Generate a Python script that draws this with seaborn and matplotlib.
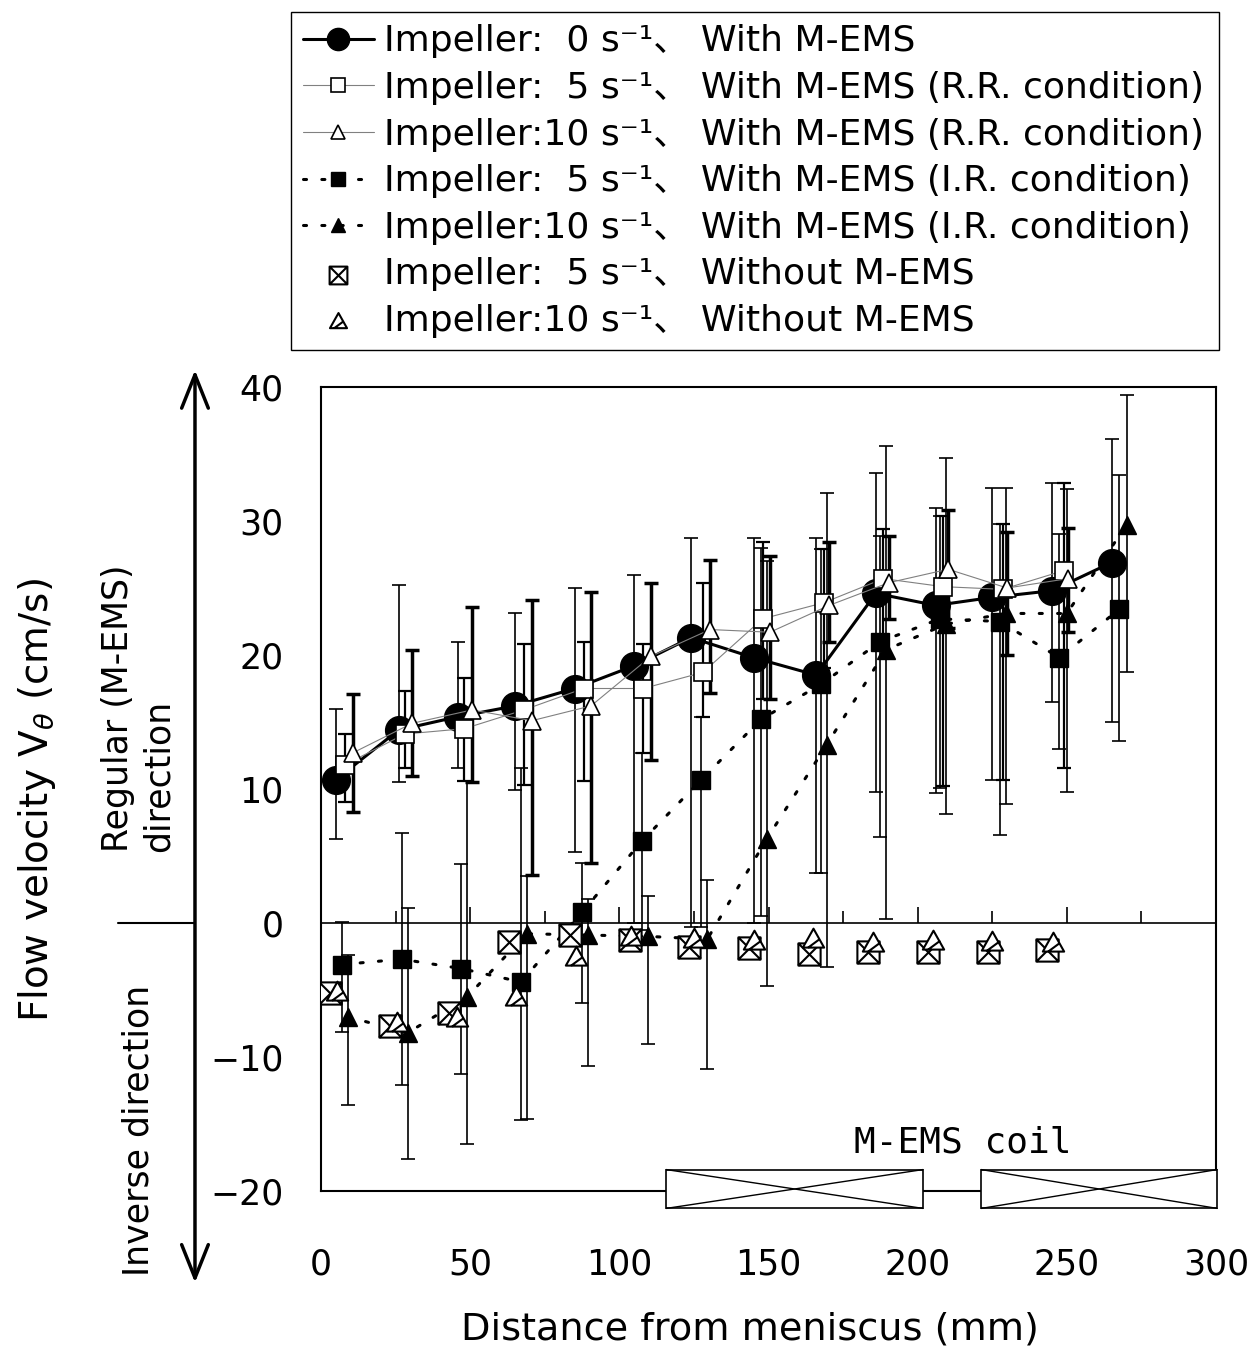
import matplotlib

matplotlib.use("Agg")
import matplotlib.pyplot as plt
import numpy as np
import seaborn as sns
from matplotlib.markers import MarkerStyle
from matplotlib.patches import Rectangle
from matplotlib.path import Path

# values: position (mm), mean velocity (cm/s), bar top and bar bottom
x_imp0 = [5, 26, 46, 65, 85, 105, 124, 145, 166, 186, 206, 225, 245, 265]
v_imp0 = [10.7, 14.4, 15.4, 16.2, 17.5, 19.2, 21.3, 19.8, 18.5, 24.6, 23.7, 24.3, 24.8, 26.9]
hi_imp0 = [16.0, 25.2, 21.0, 23.1, 25.0, 26.0, 28.7, 28.7, 28.7, 33.6, 31.0, 32.5, 32.8, 36.1]
lo_imp0 = [6.3, 10.5, 11.6, 9.9, 5.3, 0.0, -0.3, 0.0, 3.7, 9.8, 9.7, 10.7, 16.5, 15.0]

x_rr5 = [8, 28, 48, 68, 88, 108, 128, 148, 168.5, 188.5, 208.5, 228.5, 249]
v_rr5 = [11.8, 14.1, 14.5, 15.9, 17.5, 17.5, 18.7, 22.7, 23.9, 25.7, 25.1, 24.9, 26.3]
hi_rr5 = [14.1, 17.3, 18.3, 20.8, 21.0, 20.8, 25.4, 28.4, 27.9, 29.4, 30.4, 29.8, 32.8]
lo_rr5 = [9.0, 11.6, 10.6, 10.3, 10.6, 12.7, 15.4, 16.7, 19.0, 21.0, 10.2, 10.7, 11.6]

x_rr10 = [10.7, 30.5, 50.6, 70.7, 90.5, 110.6, 130.4, 150.5, 170.3, 190.4, 210.2, 230, 250.4]
v_rr10 = [12.7, 14.9, 15.9, 15.1, 16.2, 19.9, 21.9, 21.7, 23.7, 25.4, 26.4, 25.0, 25.7]
hi_rr10 = [17.1, 20.4, 23.6, 24.1, 24.7, 25.4, 27.1, 27.4, 28.4, 28.9, 30.8, 29.2, 29.5]
lo_rr10 = [8.3, 11.0, 10.5, 3.6, 4.5, 12.2, 17.2, 16.7, 21.0, 22.7, 22.0, 20.0, 21.7]

x_ir5 = [7, 27, 47, 67, 87.5, 107.5, 127.5, 147.5, 167.5, 187.5, 207.5, 227.5, 247.5, 267.5]
v_ir5 = [-3.1, -2.7, -3.4, -4.4, 0.8, 6.1, 10.7, 15.2, 17.8, 21.0, 22.7, 22.5, 19.8, 23.4]
hi_ir5 = [0.1, 6.7, 4.4, 11.6, 4.5, 12.7, 15.4, 28.0, 27.9, 28.9, 30.4, 29.8, 29.0, 33.4]
lo_ir5 = [-8.1, -12.1, -11.3, -14.7, -6.0, -0.5, -0.3, 0.5, 3.7, 6.4, 10.1, 6.6, 13.0, 13.6]

x_ir10 = [9, 29, 49, 69, 89.5, 109.5, 129.5, 149.5, 169.5, 189.5, 209.5, 229.5, 250, 270]
v_ir10 = [-7.0, -8.2, -5.5, -0.8, -0.9, -1.0, -1.2, 6.3, 13.3, 20.4, 22.3, 23.1, 23.1, 29.7]
hi_ir10 = [-2.4, 1.1, 10.6, 3.5, 1.8, 2.0, 3.2, 27.0, 32.1, 35.6, 34.7, 32.5, 32.4, 39.4]
lo_ir10 = [-13.6, -17.6, -16.5, -14.6, -10.7, -9.0, -10.9, -4.7, -3.3, 0.3, 8.1, 8.9, 9.8, 18.7]

x_off5 = [3, 23, 43, 63, 83.5, 103.5, 123.5, 143.5, 163.5, 183.5, 203.5, 223.5, 243.5]
v_off5 = [-5.2, -7.7, -6.7, -1.4, -0.9, -1.3, -1.8, -1.9, -2.3, -2.2, -2.2, -2.2, -2.0]

x_off10 = [5.4, 25.5, 45.6, 65.4, 85.5, 104, 125, 145, 165, 185, 205, 225, 245.4]
v_off10 = [-5.2, -7.5, -7.2, -5.6, -2.6, -1.1, -1.3, -1.4, -1.3, -1.6, -1.4, -1.5, -1.6]

series_labels = [
    "Impeller:  0 s⁻¹、 With M-EMS",
    "Impeller:  5 s⁻¹、 With M-EMS (R.R. condition)",
    "Impeller:10 s⁻¹、 With M-EMS (R.R. condition)",
    "Impeller:  5 s⁻¹、 With M-EMS (I.R. condition)",
    "Impeller:10 s⁻¹、 With M-EMS (I.R. condition)",
    "Impeller:  5 s⁻¹、 Without M-EMS",
    "Impeller:10 s⁻¹、 Without M-EMS",
]

# M-EMS coil outlines under the axis (mm)
coil_spans = [(115.7, 201.8), (221.3, 300.4)]

sns.set_style("white")
plt.rcParams["font.family"] = ["DejaVu Sans", "Noto Sans CJK JP"]
plt.rcParams["axes.unicode_minus"] = True
plt.rcParams["text.color"] = "black"
plt.rcParams["axes.labelcolor"] = "black"
plt.rcParams["xtick.color"] = "black"
plt.rcParams["ytick.color"] = "black"

# crossed square and slashed triangle markers for the runs without M-EMS
sq_x = Path(
    [(-1, -1), (1, -1), (1, 1), (-1, 1), (-1, -1), (-1, -1), (1, 1), (-1, 1), (1, -1)],
    [Path.MOVETO, Path.LINETO, Path.LINETO, Path.LINETO, Path.CLOSEPOLY,
     Path.MOVETO, Path.LINETO, Path.MOVETO, Path.LINETO],
)
tri_slash = Path(
    [(0, 1), (-0.9, -0.6), (0.9, -0.6), (0, 1), (-0.45, -0.6), (0.5, 0.1)],
    [Path.MOVETO, Path.LINETO, Path.LINETO, Path.CLOSEPOLY, Path.MOVETO, Path.LINETO],
)


def draw_bars(ax, x, v, hi, lo, lw):
    v = np.asarray(v)
    yerr = [v - np.asarray(lo), np.asarray(hi) - v]
    ax.errorbar(x, v, yerr=yerr, fmt="none", ecolor="black", elinewidth=lw,
                capsize=5, capthick=lw, zorder=2)


fig = plt.figure(figsize=(12.47, 13.47), dpi=100)
ax = fig.add_axes([321 / 1247, 1 - 1191 / 1347, 895 / 1247, 804 / 1347])

draw_bars(ax, x_imp0, v_imp0, hi_imp0, lo_imp0, 1.2)
draw_bars(ax, x_rr5, v_rr5, hi_rr5, lo_rr5, 1.6)
draw_bars(ax, x_rr10, v_rr10, hi_rr10, lo_rr10, 2.5)
draw_bars(ax, x_ir5, v_ir5, hi_ir5, lo_ir5, 1.2)
draw_bars(ax, x_ir10, v_ir10, hi_ir10, lo_ir10, 1.2)

ax.axhline(0, color="black", lw=1.2, zorder=1)
tick_x = np.arange(25, 300, 25)
ax.vlines(tick_x, 0, np.where(tick_x % 50 == 0, 1.2, 0.9), color="black", lw=1.2, zorder=1)

sns.lineplot(x=x_imp0, y=v_imp0, ax=ax, color="black", linewidth=2.2, marker="o",
             markersize=20, markerfacecolor="black", markeredgecolor="black",
             markeredgewidth=1, label=series_labels[0], legend=False, zorder=4)
sns.lineplot(x=x_rr5, y=v_rr5, ax=ax, color="#808080", linewidth=0.8, marker="s",
             markersize=12.5, markerfacecolor="white", markeredgecolor="black",
             markeredgewidth=1.2, label=series_labels[1], legend=False, zorder=5)
sns.lineplot(x=x_rr10, y=v_rr10, ax=ax, color="#808080", linewidth=0.8, marker="^",
             markersize=13, markerfacecolor="white", markeredgecolor="black",
             markeredgewidth=1.2, label=series_labels[2], legend=False, zorder=6)
sns.lineplot(x=x_ir5, y=v_ir5, ax=ax, color="black", linewidth=2.2, linestyle=(0, (1, 5)),
             dash_capstyle="round", marker="s", markersize=13, markerfacecolor="black",
             markeredgecolor="black", markeredgewidth=1, label=series_labels[3],
             legend=False, zorder=7)
sns.lineplot(x=x_ir10, y=v_ir10, ax=ax, color="black", linewidth=2.2, linestyle=(0, (1, 5)),
             dash_capstyle="round", marker="^", markersize=13, markerfacecolor="black",
             markeredgecolor="black", markeredgewidth=1, label=series_labels[4],
             legend=False, zorder=8)
sns.scatterplot(x=x_off5, y=v_off5, ax=ax, marker=MarkerStyle(sq_x), s=256, color="white",
                edgecolor="black", linewidth=1.5, label=series_labels[5], legend=False, zorder=9)
sns.scatterplot(x=x_off10, y=v_off10, ax=ax, marker=MarkerStyle(tri_slash), s=290, color="white",
                edgecolor="black", linewidth=1.5, label=series_labels[6], legend=False, zorder=10)

ax.set_xlim(0, 300)
ax.set_ylim(-20, 40)
ax.set_xticks(range(0, 301, 50))
ax.set_yticks(range(-20, 41, 10))
ax.tick_params(axis="y", direction="in", length=11, width=1.2, color="#666666",
               labelcolor="black", pad=27, labelsize=25)
ax.tick_params(axis="x", length=0, pad=41, labelsize=25, labelcolor="black")
for side in ["left", "right", "top", "bottom"]:
    ax.spines[side].set_visible(True)
    ax.spines[side].set_color("black")
    ax.spines[side].set_linewidth(1.5)

ax.set_xlabel("Distance from meniscus (mm)", fontsize=27.5)
ax.xaxis.set_label_coords((750 - 321) / 895, -0.150)
ax.set_ylabel("")

# coil boxes below the bottom spine
for x0, x1 in coil_spans:
    ax.add_patch(Rectangle((x0, -21.3), x1 - x0, 2.9, facecolor="white", edgecolor="black",
                           lw=1.2, clip_on=False, zorder=3))
    ax.plot([x0, x1], [-21.3, -18.4], color="black", lw=1, clip_on=False, zorder=3.5)
    ax.plot([x0, x1], [-18.4, -21.3], color="black", lw=1, clip_on=False, zorder=3.5)
ax.text(215, -16.4, "M-EMS coil", family="DejaVu Sans Mono", fontsize=26,
        ha="center", va="center")

# direction arrow left of the axis
ax.annotate("", xy=(-0.1408, 1.021), xytext=(-0.1408, -0.114), xycoords="axes fraction",
            textcoords="axes fraction", annotation_clip=False,
            arrowprops=dict(arrowstyle="<->,head_length=1.2,head_width=0.48", lw=2.5,
                            color="black", mutation_scale=20, shrinkA=0, shrinkB=0))
ax.plot([-0.2268, -0.1408], [0, 0], transform=ax.get_yaxis_transform(), color="black",
        lw=1.5, clip_on=False)

ax.text(-0.317, 0.486, r"Flow velocity V$_\theta$ (cm/s)", rotation=90, fontsize=28,
        ha="center", va="center", transform=ax.transAxes)
ax.text(-0.2045, 0.6007, "Regular (M-EMS)\ndirection", rotation=90, fontsize=25,
        ha="center", va="center", multialignment="left", linespacing=1.25,
        transform=ax.transAxes)
ax.text(-0.2034, 0.0759, "Inverse direction", rotation=90, fontsize=25,
        ha="center", va="center", transform=ax.transAxes)

handles, labels = ax.get_legend_handles_labels()
leg = fig.legend(handles, labels, loc="upper left",
                 bbox_to_anchor=(291 / 1247, 1 - 350 / 1347, 928 / 1247, 338 / 1347),
                 mode="expand", borderaxespad=0, fontsize=26, frameon=True, fancybox=False,
                 framealpha=1, edgecolor="black", borderpad=0.34, labelspacing=0.35,
                 handlelength=1.95, handletextpad=0.28, markerscale=0.8)
leg.get_frame().set_linewidth(1)

fig.savefig("out.png", dpi=100)
plt.close(fig)
